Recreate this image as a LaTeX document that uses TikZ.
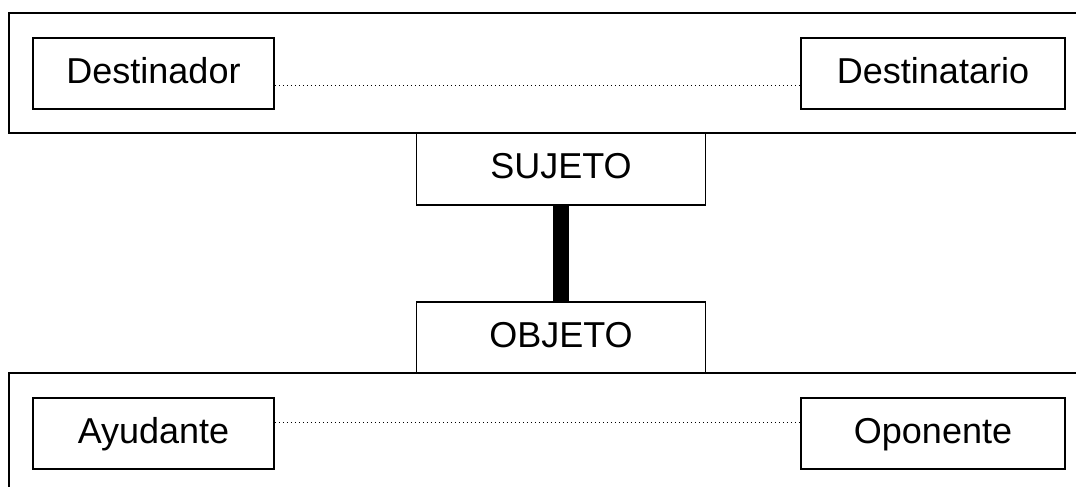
\documentclass[tikz,border=0pt]{standalone}
\usepackage{fontspec}
\setmainfont{Liberation Sans}
\begin{document}
\begin{tikzpicture}[x=1pt,y=-1pt,
  actant/.style={draw=black, line width=1.6pt, inner sep=0pt,
    minimum height=71pt, text height=26pt, text depth=7pt,
    font=\fontsize{36}{43}\selectfont},
  frameline/.style={draw=black, line width=1.5pt},
  dotline/.style={draw=black, line width=0.8pt, dash pattern=on 1.2pt off 2.8pt},
  axis/.style={draw=black, line width=16pt}]
  \useasboundingbox[fill=white] (0,0) rectangle (1076,487);

  % upper band: sender and receiver
  \draw[frameline] (1080,13) -- (9,13) -- (9,133) -- (1080,133);
  \node[actant, minimum width=241pt] (destinador) at (153.5,73.5) {Destinador};
  \node[actant, minimum width=264pt] (destinatario) at (933,73.5) {Destinatario};
  \draw[dotline] ([yshift=-11.5pt]destinador.east) -- ([yshift=-11.5pt]destinatario.west);

  % lower band: helper and opponent
  \draw[frameline] (1080,373) -- (9,373) -- (9,490);
  \node[actant, minimum width=241pt] (ayudante) at (153.5,433.5) {Ayudante};
  \node[actant, minimum width=264pt] (oponente) at (933,433.5) {Oponente};
  \draw[dotline] ([yshift=11.5pt]ayudante.east) -- ([yshift=11.5pt]oponente.west);

  % central axis: subject and object
  \node[actant, minimum width=289pt, minimum height=72pt] (sujeto) at (561,169) {SUJETO};
  \node[actant, minimum width=289pt] (objeto) at (561,337.5) {OBJETO};
  \draw[axis] (sujeto.south) -- (objeto.north);
\end{tikzpicture}
\end{document}
